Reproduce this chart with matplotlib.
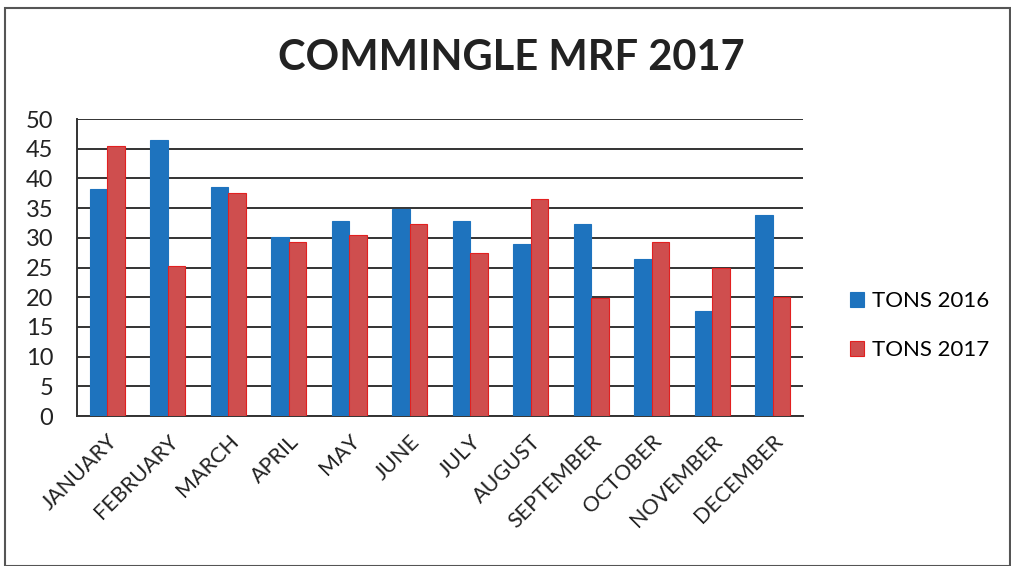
import matplotlib
matplotlib.use('Agg')
import matplotlib.pyplot as plt
import numpy as np
from matplotlib.patches import Rectangle

months = ['JANUARY', 'FEBRUARY', 'MARCH', 'APRIL', 'MAY', 'JUNE', 'JULY',
          'AUGUST', 'SEPTEMBER', 'OCTOBER', 'NOVEMBER', 'DECEMBER']
tons_2016 = [38.3, 46.4, 38.6, 30.2, 32.9, 34.9, 32.8, 28.9, 32.4, 26.5, 17.6, 33.8]
tons_2017 = [45.5, 25.3, 37.6, 29.3, 30.5, 32.3, 27.5, 36.5, 19.8, 29.3, 24.9, 20.1]
yticks = list(range(0, 51, 5))

plt.rcParams['font.family'] = ['Lato', 'DejaVu Sans']

fig = plt.figure(figsize=(10.12, 5.66), dpi=100)
ax = fig.add_axes([0.0761, 0.265, 0.7174, 0.5247])

# outer chart border (scanned sheet)
fig.patches.append(Rectangle((0.005, 0.0), 0.993, 0.986, transform=fig.transFigure,
                             fill=False, edgecolor='#555555', linewidth=1.5))

x = np.arange(len(months))
w = 0.29
ax.bar(x - w / 2, tons_2016, w, color='#1E73BE', edgecolor='#1E73BE', linewidth=0.8,
       label='TONS 2016', zorder=3)
ax.bar(x + w / 2, tons_2017, w, color='#CF4E4E', edgecolor='#E22020', linewidth=0.8,
       label='TONS 2017', zorder=3)

ax.set_xlim(-0.5, len(months) - 0.5)
ax.set_ylim(0, 50)
ax.set_yticks(yticks)
ax.yaxis.grid(True, color='#333333', linewidth=1.4, zorder=0)
ax.tick_params(axis='y', length=0, labelsize=17, pad=17, colors='#222222')
ax.tick_params(axis='x', length=0, pad=11)
ax.set_xticks(x)
ax.set_xticklabels(months, rotation=45, ha='right', rotation_mode='anchor',
                   fontsize=15.5, color='#222222')

for s in ['top', 'right']:
    ax.spines[s].set_visible(False)
ax.spines['left'].set_color('#333333')
ax.spines['left'].set_linewidth(1.4)
ax.spines['bottom'].set_color('#333333')
ax.spines['bottom'].set_linewidth(1.4)

fig.text(0.505, 0.897, 'COMMINGLE MRF 2017', ha='center', va='center',
         fontsize=30, fontweight='bold', color='#222222')

fig.legend(loc='center left', bbox_to_anchor=(0.82, 0.425), frameon=False,
           fontsize=16, handlelength=0.65, handleheight=0.65, labelspacing=1.3,
           handletextpad=0.35)

fig.savefig('out.png', dpi=100)
